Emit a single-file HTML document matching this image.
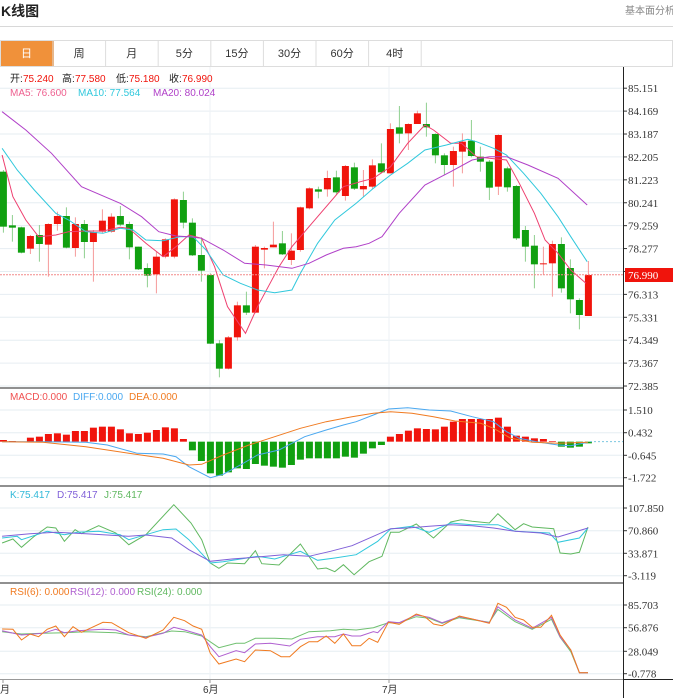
<!DOCTYPE html>
<html><head><meta charset="utf-8"><style>
body{margin:0;width:673px;height:698px;overflow:hidden;background:#fff;font-family:"Liberation Sans","Noto Sans CJK SC",sans-serif;}
svg{position:absolute;left:0;top:0}
</style></head><body>
<svg id="s" width="673" height="698" viewBox="0 0 673 698" xmlns="http://www.w3.org/2000/svg">
<text x="1" y="16" font-size="14" font-weight="bold" fill="#222" font-family="Liberation Sans,Noto Sans CJK SC,sans-serif">K线图</text>
<text x="625" y="14" font-size="10" fill="#888" font-family="Liberation Sans,Noto Sans CJK SC,sans-serif">基本面分析</text>
<line x1="0" y1="26.5" x2="673" y2="26.5" stroke="#d8d8d8"/>
</svg>
<script>
const S=document.getElementById('s');const NS='http://www.w3.org/2000/svg';
function el(t,a,txt){const e=document.createElementNS(NS,t);for(const k in a)e.setAttribute(k,a[k]);if(txt!==undefined)e.textContent=txt;S.appendChild(e);return e;}
const F='Liberation Sans,Noto Sans CJK SC,sans-serif';
const tabs=['日','周','月','5分','15分','30分','60分','4时'];
el('rect',{x:0.5,y:40.5,width:672,height:26,fill:'none',stroke:'#ddd'});
for(let i=0;i<8;i++){const x=i*52.6;
 if(i==0)el('rect',{x:1,y:41,width:53,height:25,fill:'#f0913a'});
 el('line',{x1:x+53,y1:40.5,x2:x+53,y2:66,stroke:'#ddd'});
 el('text',{x:x+26.5,y:57,'font-size':11,'text-anchor':'middle',fill:i==0?'#fff':'#333','font-family':F},tabs[i]);}
const zx=x=>x*673/1568;
function hgrid(y){el('line',{x1:0,y1:y,x2:623,y2:y,stroke:'#e6edf2'});}
function axl(y,t){el('line',{x1:623,y1:y,x2:627,y2:y,stroke:'#333'});el('text',{x:628,y:y+4,'font-size':11,fill:'#333','font-family':'Liberation Serif,serif'},t);}
const main=['85.151','84.169','83.187','82.205','81.223','80.241','79.259','78.277','77.295','76.313','75.331','74.349','73.367','72.385'];
main.forEach((t,i)=>{const y=88.2+i*22.91;hgrid(y);axl(y,t);});
[[410,'1.510'],[432.7,'0.432'],[455.3,'-0.645'],[477.7,'-1.722']].forEach(a=>{hgrid(a[0]);axl(a[0],a[1]);});
[[508,'107.850'],[530.7,'70.860'],[553.3,'33.871'],[575.7,'-3.119']].forEach(a=>{hgrid(a[0]);axl(a[0],a[1]);});
[[605,'85.703'],[627.7,'56.876'],[651.3,'28.049'],[673.7,'-0.778']].forEach(a=>{hgrid(a[0]);axl(a[0],a[1]);});
[210,389].forEach(x=>el('line',{x1:x,y1:67,x2:x,y2:679,stroke:'#eef2f5'}));
el('line',{x1:623.5,y1:67,x2:623.5,y2:698,stroke:'#222'});
[388,486,583].forEach(y=>el('line',{x1:0,y1:y,x2:623,y2:y,stroke:'#222'}));
el('line',{x1:0,y1:679.5,x2:623,y2:679.5,stroke:'#999'});
el('line',{x1:623,y1:679.5,x2:673,y2:679.5,stroke:'#222'});
[3,210,389].forEach(x=>el('line',{x1:x,y1:679,x2:x,y2:683,stroke:'#999'}));
el('text',{x:0,y:693,'font-size':10,fill:'#333','font-family':F},'月');
el('text',{x:203,y:693,'font-size':10,fill:'#333','font-family':F},'6月');
el('text',{x:382,y:693,'font-size':10,fill:'#333','font-family':F},'7月');
const C=[[215,380,210,398,0],[376,383,345,425,0],[382,458,380,460,0],[408,446,405,462,1],[405,432,375,485,0],[372,434,370,530,1],[348,372,335,392,1],[348,443,322,445,0],[372,444,352,470,1],[372,426,360,475,0],[396,426,390,545,1],[362,395,328,400,1],[350,395,340,398,1],[348,374,318,378,0],[372,442,365,478,0],[440,508,440,510,0],[504,527,490,562,0],[470,523,455,580,1],[418,470,415,475,1],[298,470,295,475,1],[300,368,275,385,0],[368,466,355,468,0],[465,512,412,545,0],[525,731,520,732,0],[730,806,720,832,0],[712,806,708,808,1],[616,712,605,722,1],[616,638,575,645,0],[440,638,435,640,1],[444,449,440,505,1],[434,442,365,442,1],[430,463,393,465,0],[452,480,400,495,1],[322,450,320,455,1],[265,325,262,328,1],[268,275,260,295,0],[234,268,212,290,1],[232,277,212,285,0],[198,288,195,302,1],[202,266,188,270,0],[258,268,210,290,1],[196,260,178,268,1],[190,217,130,220,0],[87,220,70,220,1],[82,101,18,130,0],[72,100,70,150,1],[40,72,32,72,1],[72,82,8,110,0],[102,166,100,190,0],[166,195,160,225,0],[153,195,140,260,1],[125,155,100,220,1],[122,168,60,172,0],[170,185,140,215,0],[185,263,180,300,0],[105,260,103,285,1],[205,262,200,275,0],[258,415,255,420,0],[390,440,378,485,0],[437,493,405,565,0],[490,493,440,525,1],[432,490,422,590,1],[432,565,412,578,0],[504,598,478,640,0],[600,645,595,688,0],[525,648,483,648,1]];
const cx=i=>3.4+i*9.0;const my=y=>y/3+100;
C.forEach((c,i)=>{const x=cx(i);const red=c[4];
 el('line',{x1:x,y1:my(c[2]),x2:x,y2:my(c[3]),stroke:red?'#f59a9a':'#8fd08f'});
 el('rect',{x:x-3.5,y:my(c[0]),width:7,height:Math.max(1,my(c[1])-my(c[0])),fill:red?'#f0140c':'#10a010'});});
function pl(pts,col,fy,w,extra){el('polyline',Object.assign({points:pts.map(p=>zx(p[0]).toFixed(1)+','+fy(p[1]).toFixed(1)).join(' '),fill:'none',stroke:col,'stroke-width':w||1},extra||{}));}
pl([[5,165],[30,290],[60,360],[90,410],[130,405],[160,395],[200,393],[240,393],[280,382],[300,385],[340,430],[380,470],[410,440],[440,405],[470,415],[500,500],[530,620],[572,700],[600,620],[650,500],[680,440],[720,380],[760,320],[800,260],[840,245],[870,235],[910,200],[950,130],[990,75],[1010,90],[1050,130],[1075,130],[1110,170],[1140,175],[1180,180],[1210,250],[1245,340],[1270,420],[1300,460],[1330,510],[1365,550]],'#ee3f6f',my);
pl([[5,145],[40,210],[80,270],[130,340],[160,360],[200,395],[240,400],[280,385],[310,390],[340,420],[380,422],[420,410],[450,410],[480,450],[520,525],[560,550],[600,570],[640,578],[680,570],[700,520],[740,430],[780,360],[830,310],[870,265],[910,225],[950,190],[990,150],[1040,135],[1090,118],[1110,125],[1150,145],[1180,165],[1220,220],[1260,280],[1300,350],[1330,410],[1368,485]],'#30c8dc',my);
pl([[5,35],[60,90],[120,160],[190,260],[280,310],[330,350],[370,395],[410,408],[440,410],[470,415],[520,450],[570,490],[620,495],[680,505],[720,490],[760,465],[800,445],[830,440],[860,430],[890,410],[930,340],[990,255],[1050,215],[1100,180],[1140,170],[1180,170],[1230,195],[1300,235],[1368,315]],'#b040c8',my);
el('line',{x1:0,y1:274.7,x2:623,y2:274.7,stroke:'#f28a8a','stroke-dasharray':'2,1'});
el('rect',{x:625,y:268,width:48,height:14,fill:'#f0140c'});
el('text',{x:628,y:279,'font-size':11,fill:'#fff','font-family':'Liberation Serif,serif'},'76.990');
function leg(y,items){items.forEach(it=>{el('text',{x:it[2],y:y,'font-size':10,fill:it[1],'font-family':F},it[0]);});}
leg(82,[['开:','#222',10],['75.240','#f0140c',23],['高:','#222',62],['77.580','#f0140c',75],['低:','#222',116],['75.180','#f0140c',129],['收:','#222',169],['76.990','#f0140c',182]]);
leg(96,[['MA5: 76.600','#ee5f8f',10],['MA10: 77.564','#30c8dc',78],['MA20: 80.024','#b040c8',153]]);
leg(400,[['MACD:0.000','#f05050',10],['DIFF:0.000','#4aa8f0',73],['DEA:0.000','#f07a20',129]]);
leg(498,[['K:75.417','#30b8d8',10],['D:75.417','#8060d8',57],['J:75.417','#60b860',104]]);
leg(595,[['RSI(6): 0.000','#f07a20',10],['RSI(12): 0.000','#b060d0',70],['RSI(24): 0.000','#60b860',137]]);
const macd=[165,168,170,158,155,147,145,149,138,138,128,125,125,133,145,147,143,135,127,130,162,196,228,265,272,262,250,252,237,242,245,248,240,224,220,220,220,220,215,218,206,190,180,155,147,137,130,132,133,125,110,102,102,102,102,98,125,152,155,160,162,168,185,188,185,175];
const ay=y=>y/3+385;const z=ay(170);
macd.forEach((v,i)=>{const y=ay(v);if(Math.abs(y-z)<0.3)return;el('rect',{x:cx(i)-3.5,y:Math.min(y,z),width:7,height:Math.abs(y-z),fill:y<z?'#f0140c':'#10a010'});});
el('line',{x1:590,y1:z,x2:623,y2:z,stroke:'#7cc8e0','stroke-dasharray':'2,2'});
pl([[5,170],[100,170],[200,172],[250,180],[320,205],[380,207],[410,215],[440,245],[490,278],[520,268],[560,240],[600,210],[650,195],[680,175],[710,155],[760,135],[800,120],[830,110],[870,90],[905,72],[950,68],[1000,75],[1050,78],[1100,95],[1150,110],[1180,140],[1210,160],[1250,170],[1300,180],[1330,182],[1370,172]],'#4aa8f0',ay);
pl([[5,170],[100,172],[200,185],[300,205],[380,220],[440,240],[470,238],[520,210],[580,180],[640,155],[700,130],[760,110],[820,95],[870,85],[910,80],[960,85],[1010,95],[1060,108],[1120,115],[1150,130],[1190,160],[1240,172],[1300,175],[1370,172]],'#f07a20',ay);
const ky=y=>y/3+483;
pl([[5,180],[30,168],[50,193],[80,160],[110,132],[130,135],[150,175],[175,140],[190,152],[230,128],[270,150],[300,185],[340,155],[405,65],[445,120],[470,170],[490,240],[510,256],[530,240],[570,242],[595,203],[610,242],[650,246],[700,183],[740,258],[760,255],[780,266],[800,245],[825,275],[860,236],[890,220],[910,148],[930,148],[970,123],[1010,165],[1050,117],[1075,110],[1100,115],[1140,120],[1160,92],[1200,140],[1220,122],[1240,132],[1290,137],[1305,210],[1330,213],[1350,208],[1370,132]],'#60b860',ky);
pl([[5,165],[40,160],[50,170],[110,145],[150,155],[180,148],[230,145],[280,155],[300,170],[340,155],[380,140],[410,138],[440,170],[490,240],[520,236],[600,220],[640,228],[700,205],[740,232],[780,225],[830,215],[880,175],[910,138],[960,130],[1000,148],[1050,120],[1100,125],[1160,125],[1200,145],[1280,150],[1300,178],[1350,165],[1370,135]],'#30c8dc',ky);
pl([[5,160],[70,152],[130,148],[200,152],[250,156],[300,160],[340,156],[400,165],[440,200],[490,235],[540,228],[600,222],[660,215],[720,220],[770,205],[820,188],[870,160],[910,137],[950,135],[1000,130],[1050,125],[1100,128],[1150,135],[1200,145],[1260,150],[1300,162],[1370,135]],'#8060d8',ky);
const ry=y=>y/3+580;
pl([[5,155],[50,162],[100,160],[150,158],[200,155],[270,158],[300,165],[340,170],[400,153],[430,155],[470,168],[510,203],[550,190],[570,190],[595,175],[640,175],[680,177],[720,155],[770,152],[800,148],[830,150],[870,143],[905,128],[930,128],[970,110],[1000,115],[1030,130],[1070,113],[1140,127],[1160,88],[1200,125],[1240,148],[1285,118],[1305,172],[1330,215],[1350,278],[1370,278]],'#70c070',ry);
pl([[5,152],[50,165],[100,160],[130,148],[150,158],[180,152],[240,148],[270,150],[300,165],[340,172],[380,160],[405,142],[430,150],[470,165],[490,200],[510,230],[550,212],[570,218],[595,192],[630,190],[675,198],[700,178],[740,170],[780,170],[800,162],[820,168],[840,168],[870,155],[880,158],[905,125],[930,128],[970,105],[1000,112],[1030,128],[1070,110],[1100,117],[1140,128],[1160,80],[1200,120],[1240,145],[1285,112],[1305,170],[1330,210],[1350,278],[1370,278]],'#b060d0',ry);
pl([[5,147],[30,148],[50,180],[70,162],[90,170],[110,148],[130,138],[150,170],[170,140],[190,157],[240,127],[260,128],[300,158],[340,175],[380,150],[405,112],[430,122],[450,138],[470,148],[490,220],[510,252],[550,237],[570,245],[595,210],[630,212],[655,230],[675,230],[700,200],[720,185],[740,185],[760,168],[780,190],[800,162],[820,197],[840,197],[860,175],[880,187],[905,127],[930,133],[970,102],[990,110],[1010,132],[1030,137],[1070,108],[1100,117],[1140,130],[1160,70],[1180,82],[1200,112],[1220,120],[1240,142],[1260,142],[1285,106],[1305,165],[1330,210],[1350,278],[1370,278]],'#f07a20',ry);
</script>
</body></html>
